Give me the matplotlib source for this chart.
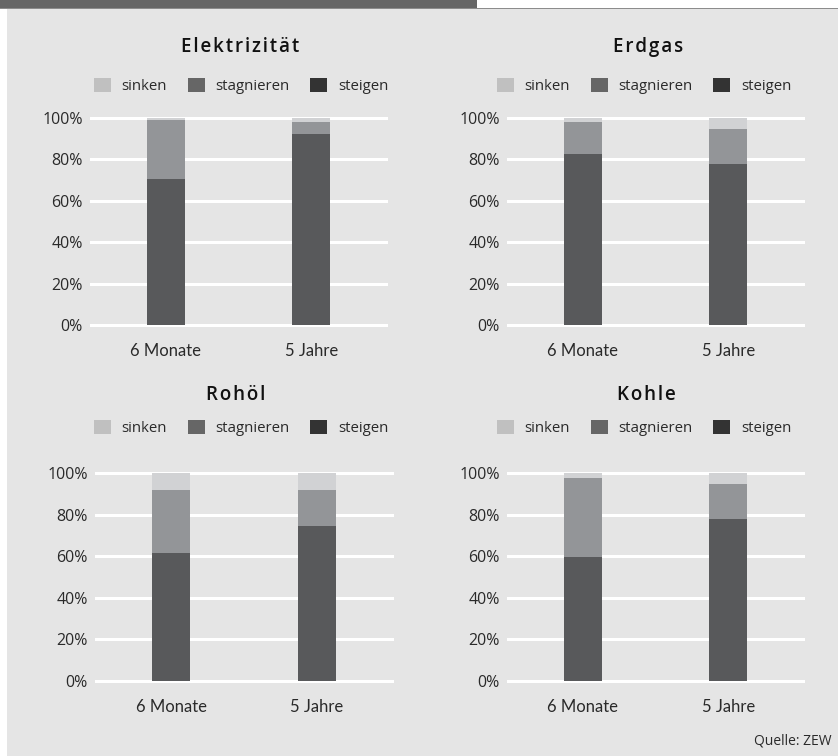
import matplotlib
matplotlib.use('Agg')
import matplotlib.pyplot as plt
from matplotlib.patches import Patch, Rectangle

plt.rcParams['font.family'] = ['Open Sans', 'DejaVu Sans']

periods = ['6 Monate', '5 Jahre']
titles = ['Elektrizität', 'Erdgas', 'Rohöl', 'Kohle']
steigen = [[70.5, 92.5], [82.5, 78.0], [61.5, 74.5], [59.5, 78.0]]
stagnieren = [[28.5, 5.5], [15.5, 16.5], [30.5, 17.5], [38.0, 16.5]]
sinken = [[1.0, 2.0], [2.0, 5.5], [8.0, 8.0], [2.5, 5.5]]
legend_labels = ['sinken', 'stagnieren', 'steigen']
yticks = [0, 20, 40, 60, 80, 100]

W, H = 838, 756
fig = plt.figure(figsize=(W / 100, H / 100), dpi=100)
fig.patch.set_facecolor('white')

# background panel and header
fig.add_artist(Rectangle((7 / W, 0), 1, 1 - 9 / H, transform=fig.transFigure,
                         facecolor='#e5e5e5', edgecolor='none', zorder=0))
fig.add_artist(Rectangle((0, 1 - 7.5 / H), 477 / W, 7.5 / H, transform=fig.transFigure,
                         facecolor='#666666', edgecolor='none', zorder=0))
fig.add_artist(Rectangle((0, 1 - 9 / H), 1, 1.5 / H, transform=fig.transFigure,
                         facecolor='#8c8c8c', edgecolor='none', zorder=0))

bar_cols = ['#58595b', '#939598', '#d1d2d4']
leg_cols = ['#c0c0c0', '#666666', '#333333']

# (left, right, top(100%), bottom(0%)) in pixels
boxes = [(91, 386, 118, 325), (508, 803, 118, 325),
         (96, 392, 473, 681), (508, 803, 473, 681)]
title_pos = [(240, 47), (648, 47), (236, 395), (646, 395)]
legend_pos = [(94, 86), (497, 86), (94, 428), (497, 428)]

for i, (l, r, t, b) in enumerate(boxes):
    ax = fig.add_axes([l / W, 1 - b / H, (r - l) / W, (b - t) / H])
    ax.set_facecolor('none')
    for s in ax.spines.values():
        s.set_visible(False)
    x = range(len(periods))
    ax.bar(x, steigen[i], width=0.262, color=bar_cols[0], zorder=3)
    ax.bar(x, stagnieren[i], bottom=steigen[i], width=0.262, color=bar_cols[1], zorder=3)
    bot2 = [a + c for a, c in zip(steigen[i], stagnieren[i])]
    ax.bar(x, sinken[i], bottom=bot2, width=0.262, color=bar_cols[2], zorder=3)
    for v in yticks:
        ax.axhline(v, color='white', lw=2.2, zorder=1, clip_on=False)
    ax.set_xlim(-0.515, 1.515)
    ax.set_ylim(0, 100)
    ax.set_yticks(yticks)
    ax.set_yticklabels([f'{v}%' for v in yticks], fontsize=11.5, color='#2a2a2a')
    ax.set_xticks(list(x))
    ax.set_xticklabels(periods, fontsize=12, color='#2a2a2a',
                       family=['Lato', 'DejaVu Sans'])
    ax.tick_params(axis='y', length=0, pad=6)
    ax.tick_params(axis='x', length=0, pad=13)

    tx, ty = title_pos[i]
    fig.text(tx / W, 1 - ty / H, '\u200a'.join(titles[i]), ha='center', va='center',
             fontsize=13.5, fontweight='semibold', color='#111111')

    handles = [Patch(facecolor=c, edgecolor='none') for c in leg_cols]
    lx, ly = legend_pos[i]
    fig.legend(handles, legend_labels, loc='center left',
               bbox_to_anchor=(lx / W, 1 - ly / H), ncol=3, frameon=False,
               fontsize=10.8, handlelength=1.12, handleheight=1.12,
               handletextpad=0.72, columnspacing=1.38, borderpad=0,
               borderaxespad=0, labelcolor='#2a2a2a')

fig.text(831 / W, 1 - 741 / H, 'Quelle: ZEW', ha='right', va='center',
         fontsize=10, color='#2a2a2a')

fig.savefig('out.png', dpi=100, facecolor=fig.get_facecolor())
